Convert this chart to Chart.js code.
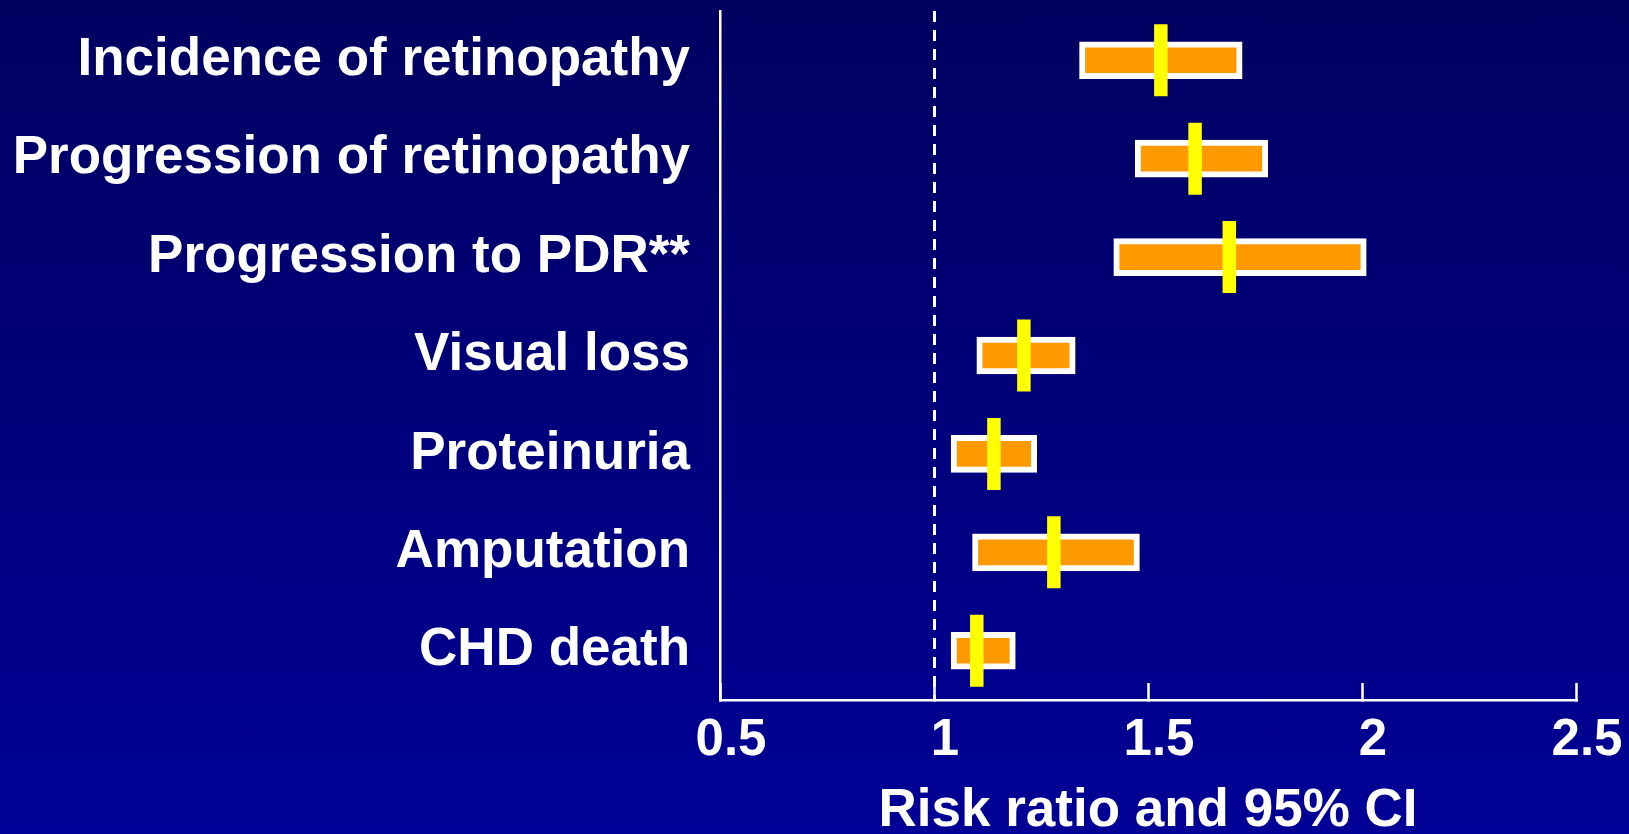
<!DOCTYPE html>
<html>
<head>
<meta charset="utf-8">
<script src="https://cdn.jsdelivr.net/npm/chart.js@4"></script>
<style>
    html, body {
        margin: 0;
        padding: 0;
    }
    body {
        width: 1629px;
        height: 834px;
        overflow: hidden;
        background: linear-gradient(to bottom, #000060 0%, #000096 100%);
    }
    #wrap {
        position: relative;
        width: 1629px;
        height: 834px;
    }
</style>
</head>
<body>
<div id="wrap"><canvas id="riskChart"></canvas></div>
<script>
// Esiti (asse y)
const categories = [
    'Incidence of retinopathy',
    'Progression of retinopathy',
    'Progression to PDR**',
    'Visual loss',
    'Proteinuria',
    'Amputation',
    'CHD death'
];

// Intervallo di confidenza 95% (estremi)
const ciLow = [1.34, 1.47, 1.42, 1.10, 1.04, 1.09, 1.04];
const ciHigh = [1.72, 1.78, 2.01, 1.33, 1.24, 1.48, 1.19];

// Risk ratio (stima puntuale)
const riskRatio = [1.53, 1.61, 1.69, 1.21, 1.14, 1.28, 1.10];

// Etichette asse x
const xTickLabels = ['0.5', '1', '1.5', '2', '2.5'];

const fontFamily = "'Liberation Sans', Arial, sans-serif";

document.addEventListener('DOMContentLoaded', function () {
    let ranges = categories.map(function (c, i) {
        return [ciLow[i], ciHigh[i]];
    });
    let points = categories.map(function (c, i) {
        return { x: riskRatio[i], y: c };
    });

    let ctx = document.getElementById('riskChart').getContext('2d');

    let riskChart = new Chart(ctx, {
        type: 'bar',
        data: {
            labels: categories,
            datasets: [{
                type: 'line',
                label: 'Risk ratio',
                data: points,
                showLine: false,
                pointStyle: 'line',
                rotation: 90,
                radius: 36,
                hoverRadius: 36,
                borderWidth: 13.5,
                hoverBorderWidth: 13.5,
                borderColor: '#FFFF00',
                backgroundColor: '#FFFF00'
            }, {
                label: '95% CI',
                data: ranges,
                backgroundColor: '#FF9900',
                borderColor: '#FFFFFF',
                borderWidth: 6,
                borderSkipped: false,
                barThickness: 37
            }]
        },
        options: {
            indexAxis: 'y',
            responsive: true,
            maintainAspectRatio: false,
            animation: false,
            layout: {
                autoPadding: false,
                padding: { top: 11, right: 53, left: 0, bottom: 0 }
            },
            plugins: {
                legend: { display: false },
                tooltip: { enabled: false }
            },
            scales: {
                x: {
                    type: 'linear',
                    min: 0.5,
                    max: 2.5,
                    afterFit: function (scale) {
                        scale.height = 134;
                        scale.paddingLeft = 0;
                        scale.paddingRight = 0;
                    },
                    ticks: {
                        stepSize: 0.5,
                        autoSkip: false,
                        maxRotation: 0,
                        padding: 32,
                        labelOffset: 11,
                        color: '#FFFFFF',
                        font: { family: fontFamily, size: 51, weight: 'bold', lineHeight: 1 },
                        callback: function (value, index) {
                            return xTickLabels[index];
                        }
                    },
                    grid: {
                        color: function (c) {
                            return c.tick && c.tick.value === 1 ? '#FFFFFF' : 'rgba(0,0,0,0)';
                        },
                        lineWidth: 3,
                        tickLength: -17,
                        tickColor: '#FFFFFF',
                        tickWidth: 2.5,
                        tickBorderDash: []
                    },
                    border: {
                        display: true,
                        color: '#FFFFFF',
                        width: 2.5,
                        dash: [11, 8]
                    },
                    title: {
                        display: true,
                        text: 'Risk ratio and 95% CI',
                        color: '#FFFFFF',
                        font: { family: fontFamily, size: 53, weight: 'bold', lineHeight: 0.85 },
                        padding: { top: 0, bottom: 0 }
                    }
                },
                y: {
                    type: 'category',
                    afterFit: function (scale) {
                        scale.width = 720;
                        scale.paddingTop = 0;
                        scale.paddingBottom = 0;
                    },
                    ticks: {
                        autoSkip: false,
                        padding: 30,
                        color: '#FFFFFF',
                        font: { family: fontFamily, size: 53, weight: 'bold' }
                    },
                    grid: { display: false, drawTicks: false },
                    border: {
                        display: true,
                        color: '#FFFFFF',
                        width: 2.5
                    }
                }
            }
        }
    });
});
</script>
</body>
</html>
